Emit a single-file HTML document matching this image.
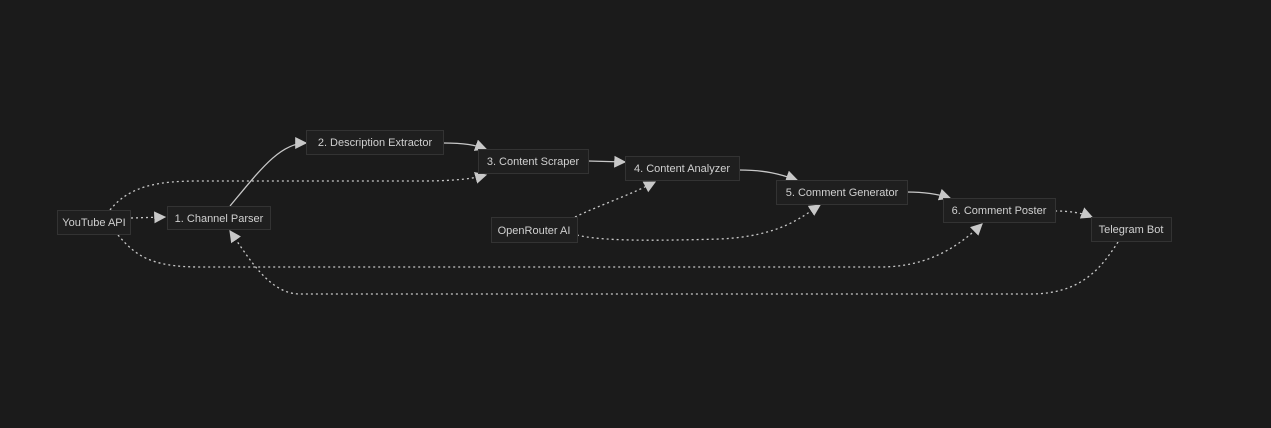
<!DOCTYPE html>
<html><head><style>
html,body{margin:0;padding:0;background:#1b1b1b;width:1271px;height:428px;overflow:hidden}
svg{display:block}
text{font-family:"Liberation Sans",sans-serif;font-size:11px;fill:#d0d0d0}
.n{fill:#1f1f1f;stroke:#333;stroke-width:1}
.e{fill:none;stroke:#c8c8c8;stroke-width:1.3}
.d{stroke-dasharray:2,3}
</style></head><body>
<svg width="1271" height="428" viewBox="0 0 1271 428">
<defs><marker id="a" viewBox="0 0 10 10" refX="9" refY="5" markerWidth="12" markerHeight="12" orient="auto" markerUnits="userSpaceOnUse"><path d="M0,0L10,5L0,10z" fill="#c8c8c8"/></marker></defs>
<path class="e d" d="M131,218 L165,217" marker-end="url(#a)"/>
<path class="e" d="M230,206 C260,170 280,143 306,143" marker-end="url(#a)"/>
<path class="e" d="M443,143 C465,143 475,145 486,149" marker-end="url(#a)"/>
<path class="e d" d="M110,210 C130,185 160,181 200,181 L420,181 C460,181 475,178 486,175" marker-end="url(#a)"/>
<path class="e" d="M588,161 L625,162" marker-end="url(#a)"/>
<path class="e" d="M739,170 C765,170 780,174 797,180" marker-end="url(#a)"/>
<path class="e" d="M907,192 C925,192 938,194 950,198" marker-end="url(#a)"/>
<path class="e d" d="M575,217 C600,205 630,195 655,182" marker-end="url(#a)"/>
<path class="e d" d="M577,235 C600,241 650,241 720,239 C780,236 800,218 820,205" marker-end="url(#a)"/>
<path class="e d" d="M118,235 C135,255 150,267 200,267 L880,267 C930,267 960,245 982,224" marker-end="url(#a)"/>
<path class="e d" d="M1055,211 C1070,211 1082,213 1092,217" marker-end="url(#a)"/>
<path class="e d" d="M1118,242 C1100,270 1080,294 1030,294 L300,294 C270,294 250,260 230,231" marker-end="url(#a)"/>
<rect class="n" x="57.5" y="210.5" width="73" height="24"/><text x="94" y="226" text-anchor="middle">YouTube API</text>
<rect class="n" x="167.5" y="206.5" width="103" height="23"/><text x="219" y="222" text-anchor="middle">1. Channel Parser</text>
<rect class="n" x="306.5" y="130.5" width="137" height="24"/><text x="375" y="146" text-anchor="middle">2. Description Extractor</text>
<rect class="n" x="478.5" y="149.5" width="110" height="24"/><text x="533" y="165" text-anchor="middle">3. Content Scraper</text>
<rect class="n" x="625.5" y="156.5" width="114" height="24"/><text x="682" y="172" text-anchor="middle">4. Content Analyzer</text>
<rect class="n" x="776.5" y="180.5" width="131" height="24"/><text x="842" y="196" text-anchor="middle">5. Comment Generator</text>
<rect class="n" x="491.5" y="217.5" width="86" height="25"/><text x="534" y="234" text-anchor="middle">OpenRouter AI</text>
<rect class="n" x="943.5" y="198.5" width="112" height="24"/><text x="999" y="214" text-anchor="middle">6. Comment Poster</text>
<rect class="n" x="1091.5" y="217.5" width="80" height="24"/><text x="1131" y="233" text-anchor="middle">Telegram Bot</text>
</svg>
</body></html>
